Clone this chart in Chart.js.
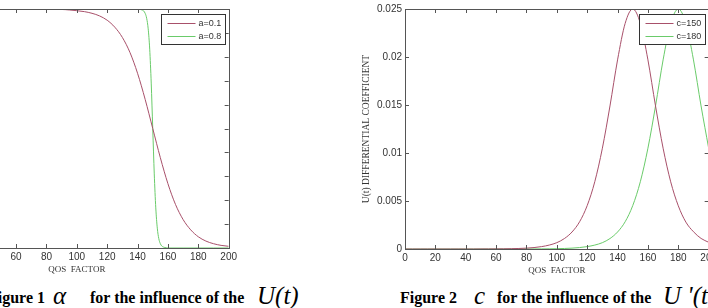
<!DOCTYPE html>
<html>
<head>
<meta charset="utf-8">
<script src="https://cdn.jsdelivr.net/npm/chart.js@4"></script>
<style>
html, body { margin: 0; padding: 0; background: #fff; }
body { width: 708px; height: 308px; overflow: hidden; position: relative; }
.box { position: absolute; }
.cap { position: absolute; font-family: "Liberation Serif", serif; font-weight: bold; font-size: 16px; line-height: 16px; white-space: nowrap; color: #000; }
.sym { position: absolute; font-family: "Liberation Serif", serif; font-style: italic; font-size: 25px; line-height: 25px; white-space: nowrap; color: #000; }
</style>
</head>
<body>
<div class="box" style="left:-160px;top:0;width:400px;height:276px"><canvas id="fig1"></canvas></div>
<div class="box" style="left:355px;top:0;width:365px;height:277px"><canvas id="fig2"></canvas></div>

<span class="cap" style="left:-12px;top:290px">Figure 1</span>
<span class="sym" style="left:53px;top:283px">&alpha;</span>
<span class="cap" style="left:90px;top:290px">for the influence of the</span>
<span class="sym" style="left:257px;top:283px">U(t)</span>

<span class="cap" style="left:400px;top:290px">Figure 2</span>
<span class="sym" style="left:474px;top:283px">c</span>
<span class="cap" style="left:497px;top:290px">for the influence of the</span>
<span class="sym" style="left:663px;top:283px">U '(t)</span>

<script>
// values
const qos = [0, 5, 10, 15, 20, 25, 30, 35, 40, 45, 50, 55, 60, 65, 70, 75, 80, 85, 90, 95,
             100, 105, 110, 115, 120, 125, 130, 135, 140, 145, 150, 155, 160, 165, 170, 175,
             180, 185, 190, 195, 200];

// figure 1, a=0.1
const util01 = [1, 1, 1, 1, 1, 1, 1, 1, 1, 1, 1, 1, 1, 1, 1, 0.999, 0.999, 0.998, 0.998, 0.996,
                0.993, 0.989, 0.982, 0.971, 0.953, 0.924, 0.881, 0.818, 0.731, 0.622, 0.5, 0.378,
                0.269, 0.182, 0.119, 0.076, 0.047, 0.029, 0.018, 0.011, 0.007];

// figure 1, a=0.8 (sharp drop, read at finer steps)
const qosSharp = [0, 20, 40, 60, 80, 100, 120, 130, 140, 141, 142, 143, 144, 145, 146, 147, 148,
                  149, 150, 151, 152, 153, 154, 155, 156, 157, 158, 159, 160, 170, 180, 190, 200];
const util08 = [1, 1, 1, 1, 1, 1, 1, 1, 1, 0.999, 0.998, 0.996, 0.992, 0.982, 0.961, 0.917, 0.832,
                0.69, 0.5, 0.31, 0.168, 0.083, 0.039, 0.018, 0.008, 0.004, 0.002, 0.001, 0, 0, 0, 0, 0];

// figure 2, derivative curves
const diff150 = [0, 0, 0, 0, 0, 0, 0, 0, 0, 0, 0.000005, 0.000007, 0.000012, 0.00002, 0.000034,
                 0.000055, 0.000091, 0.00015, 0.00025, 0.00041, 0.00066, 0.00109, 0.00177, 0.00284,
                 0.00452, 0.00701, 0.0105, 0.0149, 0.0197, 0.0235, 0.025, 0.0235, 0.0197, 0.0149,
                 0.0105, 0.0070, 0.0045, 0.0028, 0.0018, 0.0011, 0.0007];
const diff180 = [0, 0, 0, 0, 0, 0, 0, 0, 0, 0, 0, 0, 0, 0, 0, 0.000002, 0.000005, 0.000007,
                 0.000012, 0.00002, 0.000034, 0.000055, 0.000091, 0.00015, 0.00025, 0.00041,
                 0.00066, 0.00109, 0.00177, 0.00284, 0.00452, 0.00701, 0.0105, 0.0149, 0.0197,
                 0.0235, 0.025, 0.0235, 0.0197, 0.0149, 0.0105];

const xTicks = [0, 20, 40, 60, 80, 100, 120, 140, 160, 180, 200];
const yTicks2 = ['0', '0.005', '0.01', '0.015', '0.02', '0.025'];

const RED = '#a8506a';
const GREEN = '#6acb6a';

function pts(xs, ys) {
    return xs.map((x, i) => ({ x: x, y: ys[i] }));
}

// box round the plot, inward ticks on all sides, legend inside top right
const matlabBox = {
    id: 'matlabBox',
    afterDraw(chart) {
        const ctx = chart.ctx;
        const a = chart.chartArea;
        const x = chart.scales.x, y = chart.scales.y;
        ctx.save();
        ctx.strokeStyle = '#555';
        ctx.lineWidth = 1;
        ctx.strokeRect(Math.round(a.left) + 0.5, Math.round(a.top) + 0.5,
                       Math.round(a.right - a.left), Math.round(a.bottom - a.top));
        ctx.beginPath();
        x.ticks.forEach(t => {
            const px = Math.round(x.getPixelForValue(t.value)) + 0.5;
            ctx.moveTo(px, a.bottom); ctx.lineTo(px, a.bottom - 4);
            ctx.moveTo(px, a.top); ctx.lineTo(px, a.top + 4);
        });
        y.ticks.forEach(t => {
            const py = Math.round(y.getPixelForValue(t.value)) + 0.5;
            ctx.moveTo(a.left, py); ctx.lineTo(a.left + 4, py);
            ctx.moveTo(a.right, py); ctx.lineTo(a.right - 4, py);
        });
        ctx.stroke();

        // legend
        ctx.font = '9px "Liberation Sans", sans-serif';
        const sets = chart.data.datasets;
        let tw = 0;
        sets.forEach(d => { tw = Math.max(tw, ctx.measureText(d.label).width); });
        const w = Math.round(6 + 28 + 3 + tw + 4);
        const h = 30;
        const bx = Math.round(a.right - 4 - w) + 0.5;
        const by = Math.round(a.top + 5) + 0.5;
        ctx.fillStyle = '#fff';
        ctx.fillRect(bx, by, w, h);
        ctx.strokeStyle = '#333';
        ctx.strokeRect(bx, by, w, h);
        sets.forEach((d, i) => {
            const ly = Math.round(by + 8 + i * 13) + 0.5;
            ctx.strokeStyle = d.borderColor;
            ctx.beginPath();
            ctx.moveTo(bx + 6, ly); ctx.lineTo(bx + 34, ly);
            ctx.stroke();
            ctx.fillStyle = '#333';
            ctx.textBaseline = 'middle';
            ctx.fillText(d.label, bx + 37, ly);
        });
        ctx.restore();
    }
};

const tickFont = { family: '"Liberation Sans", sans-serif', size: 10 };
const titleFont = { family: '"Liberation Serif", serif', size: 9 };

function xAxis(h) {
    return {
        type: 'linear', min: 0, max: 200,
        afterBuildTicks: s => { s.ticks = xTicks.map(v => ({ value: v })); },
        afterFit: s => { s.height = h; },
        grid: { display: false, drawTicks: false },
        border: { display: false },
        ticks: { font: tickFont, color: '#333', padding: 3, maxRotation: 0, autoSkip: false },
        title: { display: true, text: 'QOS  FACTOR', font: titleFont, color: '#333', padding: { top: 0, bottom: 1 } }
    };
}

new Chart(document.getElementById('fig1'), {
    type: 'line',
    data: {
        datasets: [{
            label: 'a=0.1',
            data: pts(qos, util01),
            borderColor: RED,
            borderWidth: 1,
            pointRadius: 0,
            cubicInterpolationMode: 'monotone'
        }, {
            label: 'a=0.8',
            data: pts(qosSharp, util08),
            borderColor: GREEN,
            borderWidth: 1,
            pointRadius: 0,
            cubicInterpolationMode: 'monotone'
        }]
    },
    options: {
        responsive: true,
        maintainAspectRatio: false,
        animation: false,
        layout: { padding: { top: 7, right: 6, left: 0, bottom: 0 } },
        plugins: { legend: { display: false }, tooltip: { enabled: false } },
        scales: {
            x: xAxis(28),
            y: {
                min: 0, max: 1,
                afterFit: s => { s.width = 85; },
                grid: { display: false, drawTicks: false },
                border: { display: false },
                ticks: { stepSize: 0.1, font: tickFont, color: '#333', padding: 3 }
            }
        }
    },
    plugins: [matlabBox]
});

new Chart(document.getElementById('fig2'), {
    type: 'line',
    data: {
        datasets: [{
            label: 'c=150',
            data: pts(qos, diff150),
            borderColor: RED,
            borderWidth: 1,
            pointRadius: 0,
            cubicInterpolationMode: 'monotone'
        }, {
            label: 'c=180',
            data: pts(qos, diff180),
            borderColor: GREEN,
            borderWidth: 1,
            pointRadius: 0,
            cubicInterpolationMode: 'monotone'
        }]
    },
    options: {
        responsive: true,
        maintainAspectRatio: false,
        animation: false,
        layout: { padding: { top: 5, right: 9, left: 0, bottom: 0 } },
        plugins: { legend: { display: false }, tooltip: { enabled: false } },
        scales: {
            x: xAxis(28),
            y: {
                min: 0, max: 0.025,
                afterFit: s => { s.width = 50; },
                grid: { display: false, drawTicks: false },
                border: { display: false },
                ticks: {
                    stepSize: 0.005, font: tickFont, color: '#333', padding: 3,
                    callback: (v, i) => yTicks2[i]
                },
                title: {
                    display: true, text: 'U(t) DIFFERENTIAL COEFFICIENT',
                    font: { family: '"Liberation Serif", serif', size: 9.5 }, color: '#333',
                    padding: { top: 6, bottom: 0 }
                }
            }
        }
    },
    plugins: [matlabBox]
});
</script>
</body>
</html>
